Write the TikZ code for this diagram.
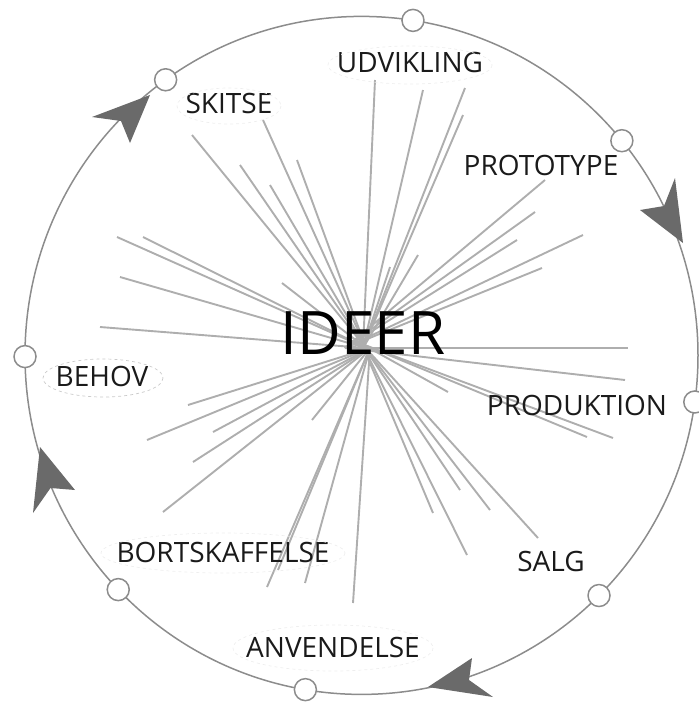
\documentclass[tikz,border=0pt]{standalone}
\usepackage{fontspec}
\setmainfont{Open Sans}
\definecolor{rayc}{HTML}{AEAEAE}
\definecolor{ringc}{HTML}{8C8C8C}
\definecolor{tipc}{HTML}{6A6A6A}
\definecolor{haloc}{HTML}{CACACA}
\definecolor{faintc}{HTML}{EEEEEE}
\definecolor{txtc}{HTML}{1A1A1A}
\begin{document}
\begin{tikzpicture}[x=1pt,y=-1pt,
  ray/.style={draw=rayc, line width=1.9pt},
  ring/.style={draw=ringc, line width=1.5pt},
  dot/.style={circle, draw=ringc, line width=1.5pt, fill=white, minimum size=22pt, inner sep=0pt},
  lbl/.style={font=\fontsize{28}{30}\selectfont, text=txtc, inner sep=0pt},
  bigl/.style={font=\fontsize{60}{62}\selectfont, text=black, inner sep=0pt},
  tiphead/.style={fill=tipc, draw=none},
  halo/.style={draw=haloc, dashed, line width=0.7pt},
  faint/.style={draw=faintc, dashed, line width=0.7pt}
]
\useasboundingbox (0,0) rectangle (699,702);
\clip (0,0) rectangle (699,702);

% hubs of the starburst
\coordinate (hubL) at (366,348);
\coordinate (hubU) at (363,348);
\coordinate (hubR) at (345,348);
\coordinate (hubS) at (362,344);
\coordinate (hubD) at (370,348);

% rays
\foreach \p in {(192,135),(240,165),(270,185),(263,120),(297,160),(282,283),
                (117,237),(143,237),(120,277),(100,327)}
  \draw[ray] (hubL) -- \p;
\foreach \p in {(375,80),(423,90),(465,88),(463,115),(418,255),(390,267)}
  \draw[ray] (hubU) -- \p;
\foreach \p in {(545,180),(535,212),(517,240),(583,235),(542,268),(628,348),(625,380)}
  \draw[ray] (hubR) -- \p;
\foreach \p in {(448,392),(587,437),(613,438),(433,513),(460,490),(490,510),(467,555),(538,538)}
  \draw[ray] (hubS) -- \p;
\foreach \p in {(353,603),(188,405),(147,440),(213,432),(193,462),(163,512),(312,420),(267,587),(305,583),(278,570)}
  \draw[ray] (hubD) -- \p;

% ring
\coordinate (ctr) at (361.5,355.4);
\draw[ring] (ctr) ellipse [x radius=336.5, y radius=339];

% arrowheads
\fill[tiphead] (150,95) -- (92,117) -- (121,121) -- (130,143) -- cycle;
\fill[tiphead] (683,243) -- (675,178) -- (664,206) -- (640,210) -- cycle;
\fill[tiphead] (428,687) -- (472,658) -- (469,680) -- (493,697) -- cycle;
\fill[tiphead] (40,447) -- (33,513) -- (50.5,488) -- (75,490) -- cycle;

% stage dots
\node[dot] (dUdv) at ({361.5+336.5*cos(81.2)},{355.4-339*sin(81.2)}) {};
\node[dot] (dSki) at ({361.5+336.5*cos(125.6)},{355.4-339*sin(125.6)}) {};
\node[dot] (dPro) at ({361.5+336.5*cos(39.3)},{355.4-339*sin(39.3)}) {};
\node[dot] (dPrd) at ({361.5+336.5*cos(-7.9)},{355.4-339*sin(-7.9)}) {};
\node[dot] (dSal) at ({361.5+336.5*cos(-45.1)},{355.4-339*sin(-45.1)}) {};
\node[dot] (dAnv) at ({361.5+336.5*cos(260.4)},{355.4-339*sin(260.4)}) {};
\node[dot] (dBor) at ({361.5+336.5*cos(223.7)},{355.4-339*sin(223.7)}) {};
\node[dot] (dBeh) at ({361.5+336.5*cos(180.2)},{355.4-339*sin(180.2)}) {};

% labels
\node[lbl] (udv) at (410,62) {UDVIKLING};
\node[lbl] (ski) at (229,103) {SKITSE};
\node[lbl] (pro) at (541,165) {PROTOTYPE};
\node[lbl] (prd) at (577,405) {PRODUKTION};
\node[lbl] (sal) at (551,561) {SALG};
\node[lbl] (anv) at (333,647) {ANVENDELSE};
\node[lbl] (bor) at (223,552) {BORTSKAFFELSE};
\node[lbl] (beh) at (102,376) {BEHOV};
\node[bigl] (ideer) at (363,333) {IDEER};

% halos around labels
\draw[halo] ([xshift=1pt,yshift=-2pt]beh.center) ellipse [x radius=60, y radius=19];
\draw[faint] ([yshift=-3pt]ski.center) ellipse [x radius=52, y radius=18];
\draw[faint] ([yshift=-3pt]udv.center) ellipse [x radius=82, y radius=19];
\draw[faint] ([yshift=-1pt]bor.center) ellipse [x radius=122, y radius=20];
\draw[faint] ([yshift=-1pt]anv.center) ellipse [x radius=100, y radius=23];
\end{tikzpicture}
\end{document}
